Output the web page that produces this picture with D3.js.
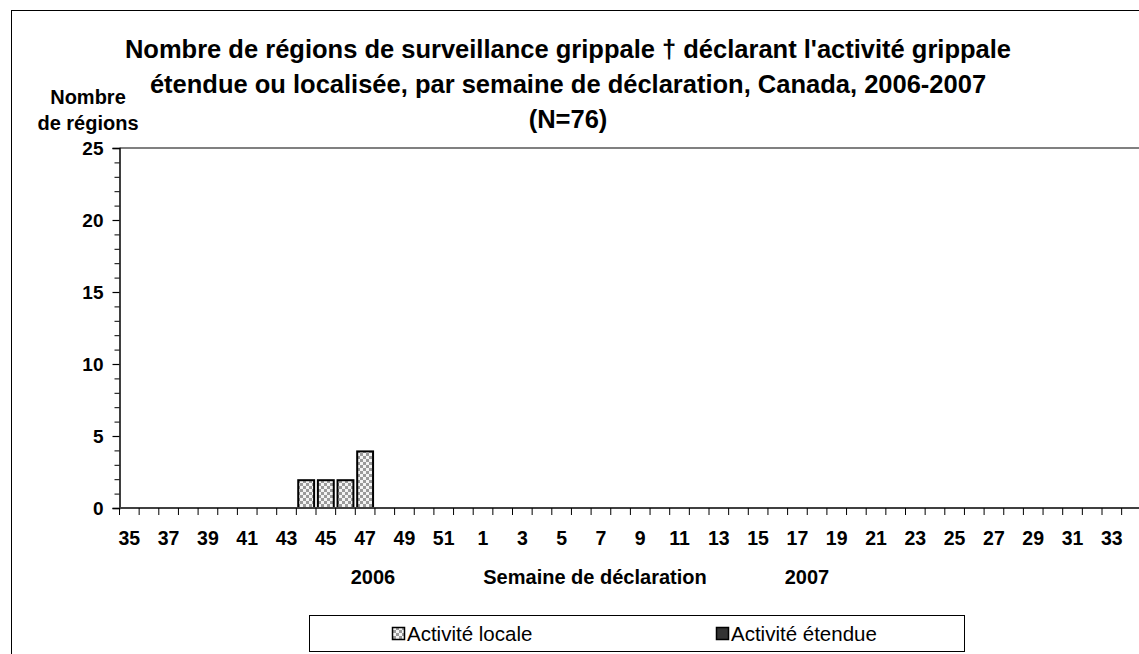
<!DOCTYPE html>
<html lang="fr">
<head>
<meta charset="UTF-8" />
<title>Activité grippale 2006-2007</title>
<script src="https://cdn.jsdelivr.net/npm/d3@7/dist/d3.min.js"></script>
<style>
    body { margin: 0; background: #fff; overflow: hidden; }
    svg { font-family: "Liberation Sans", Arial, sans-serif; }
    .tick text { font-weight: bold; font-size: 19px; fill: #000; }
</style>
</head>
<body>
<svg width="1139" height="654"></svg>
<script>
    // semaines 35..52 (2006) puis 1..34 (2007)
    const weeks = d3.range(35, 53).concat(d3.range(1, 35));
    const localValues = weeks.map(w => ({ 44: 2, 45: 2, 46: 2, 47: 4 })[w] || 0);
    const etendueValues = weeks.map(() => 0);
    const yTicks = [0, 5, 10, 15, 20, 25];
    const titleLines = [
        "Nombre de régions de surveillance grippale † déclarant l'activité grippale",
        "étendue ou localisée, par semaine de déclaration, Canada, 2006-2007",
        "(N=76)"
    ];

    const svg = d3.select("svg");
    const plot = { left: 119.5, top: 148, bottom: 508 };
    const step = 19.65;
    plot.right = plot.left + step * weeks.length;

    const defs = svg.append("defs");
    const pat = defs.append("pattern")
        .attr("id", "checker")
        .attr("patternUnits", "userSpaceOnUse")
        .attr("width", 6).attr("height", 6);
    pat.append("rect").attr("width", 6).attr("height", 6).attr("fill", "#9a9a9a");
    pat.append("rect").attr("width", 3).attr("height", 3).attr("fill", "#f4f4f4");
    pat.append("rect").attr("x", 3).attr("y", 3).attr("width", 3).attr("height", 3).attr("fill", "#f4f4f4");

    // cadre du graphique
    svg.append("rect")
        .attr("x", 11.5).attr("y", 10.5)
        .attr("width", 1300).attr("height", 1000)
        .attr("fill", "none").attr("stroke", "#000").attr("stroke-width", 1);

    const x = d3.scaleBand()
        .domain(d3.range(weeks.length))
        .range([plot.left, plot.right])
        .paddingInner(0.09)
        .paddingOuter(0.045);

    const y = d3.scaleLinear().domain([0, 25]).range([plot.bottom, plot.top]);

    // bordure haute de la zone de tracé
    svg.append("line")
        .attr("x1", plot.left).attr("x2", 1139)
        .attr("y1", plot.top).attr("y2", plot.top)
        .attr("stroke", "#808080").attr("stroke-width", 2);

    // barres empilées
    const stacked = d3.stack().keys(["local", "etendue"])(
        weeks.map((w, i) => ({ local: localValues[i], etendue: etendueValues[i] }))
    );
    const fills = { local: "url(#checker)", etendue: "#333" };
    stacked.forEach(series => {
        svg.append("g").selectAll("rect")
            .data(series.map((d, i) => ({ i, y0: d[0], y1: d[1] })).filter(d => d.y1 > d.y0))
            .enter().append("rect")
            .attr("x", d => x(d.i) + 1)
            .attr("width", x.bandwidth() - 2)
            .attr("y", d => y(d.y1) + 1)
            .attr("height", d => y(d.y0) - y(d.y1) - 1)
            .attr("fill", fills[series.key])
            .attr("stroke", "#000")
            .attr("stroke-width", 2);
    });

    // axe Y
    const yAxis = svg.append("g")
        .attr("transform", `translate(${plot.left},0)`)
        .call(d3.axisLeft(y).tickValues(yTicks).tickSize(7).tickPadding(9));
    yAxis.select(".domain").attr("stroke", "#000").attr("stroke-width", 1.5);
    yAxis.selectAll(".tick line").attr("stroke", "#000").attr("stroke-width", 1.2);
    yAxis.selectAll(".tick text").attr("dy", "0.36em");
    svg.append("g").selectAll("line")
        .data(d3.range(0, 26).filter(v => v % 5 !== 0))
        .enter().append("line")
        .attr("x1", plot.left - 5).attr("x2", plot.left)
        .attr("y1", d => y(d) + 0.5).attr("y2", d => y(d) + 0.5)
        .attr("stroke", "#000").attr("stroke-width", 1);

    // axe X : graduations aux limites des catégories, étiquettes une sur deux
    const xb = d3.scaleLinear().domain([0, weeks.length]).range([plot.left, plot.right]);
    svg.append("line")
        .attr("x1", plot.left).attr("x2", plot.right)
        .attr("y1", plot.bottom).attr("y2", plot.bottom)
        .attr("stroke", "#404040").attr("stroke-width", 2);
    svg.append("g").selectAll("line")
        .data(d3.range(0, weeks.length + 1))
        .enter().append("line")
        .attr("x1", d => xb(d)).attr("x2", d => xb(d))
        .attr("y1", plot.bottom).attr("y2", plot.bottom + 7)
        .attr("stroke", "#000").attr("stroke-width", 1);
    svg.append("g").selectAll("text")
        .data(weeks.map((w, i) => ({ w, i })).filter(d => d.i % 2 === 0))
        .enter().append("text")
        .attr("x", d => xb(d.i + 0.5))
        .attr("y", 545)
        .attr("text-anchor", "middle")
        .attr("font-weight", "bold").attr("font-size", 19.5)
        .text(d => d.w);

    // titres
    svg.append("g").selectAll("text")
        .data(titleLines)
        .enter().append("text")
        .attr("x", 568)
        .attr("y", (d, i) => 58 + i * 35)
        .attr("text-anchor", "middle")
        .attr("font-weight", "bold").attr("font-size", 25.5)
        .text(d => d);

    svg.append("g").selectAll("text")
        .data(["Nombre", "de régions"])
        .enter().append("text")
        .attr("x", 88)
        .attr("y", (d, i) => 104 + i * 26)
        .attr("text-anchor", "middle")
        .attr("font-weight", "bold").attr("font-size", 20)
        .text(d => d);

    const bottomLabels = [["2006", 373], ["Semaine de déclaration", 595], ["2007", 807]];
    svg.append("g").selectAll("text")
        .data(bottomLabels)
        .enter().append("text")
        .attr("x", d => d[1]).attr("y", 584)
        .attr("text-anchor", "middle")
        .attr("font-weight", "bold").attr("font-size", 20)
        .text(d => d[0]);

    // légende
    const legend = svg.append("g");
    legend.append("rect")
        .attr("x", 309.5).attr("y", 615.5)
        .attr("width", 655).attr("height", 36)
        .attr("fill", "#fff").attr("stroke", "#000").attr("stroke-width", 1);
    const legendItems = [
        { label: "Activité locale", fill: "url(#checker)", x: 392 },
        { label: "Activité étendue", fill: "#333", x: 716 }
    ];
    const li = legend.selectAll("g.item").data(legendItems).enter().append("g").attr("class", "item");
    li.append("rect")
        .attr("x", d => d.x + 0.5).attr("y", 627.5)
        .attr("width", 12).attr("height", 12)
        .attr("fill", d => d.fill).attr("stroke", "#000").attr("stroke-width", 1.5);
    li.append("text")
        .attr("x", d => d.x + 15).attr("y", 640.5)
        .attr("font-size", 20.5)
        .text(d => d.label);
</script>
</body>
</html>
